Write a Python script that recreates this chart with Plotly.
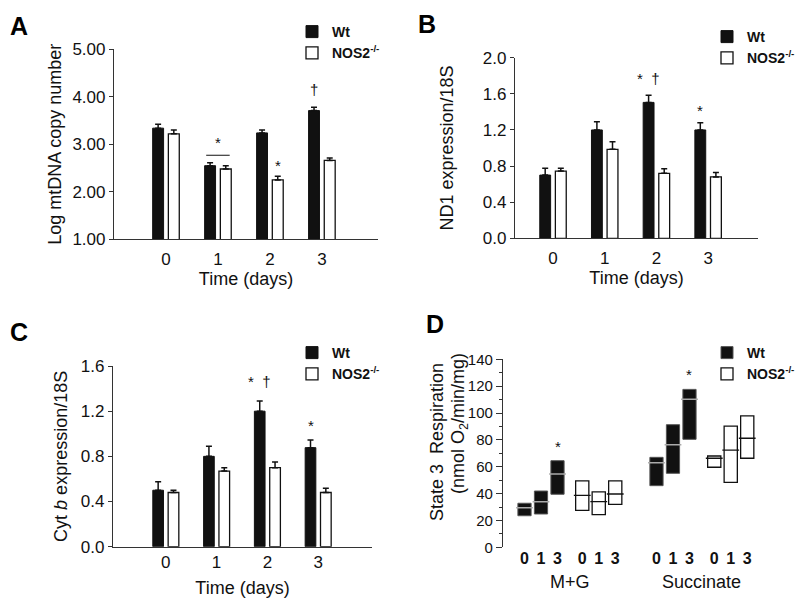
import plotly.graph_objects as go

# ---------------- data ----------------
days = ["0", "1", "2", "3"]
day_pos = [0, 1, 2, 3]

# Panel A: Log mtDNA copy number
a_wt = [3.34, 2.55, 3.24, 3.71]
a_wt_err = [0.08, 0.06, 0.06, 0.07]
a_nos = [3.22, 2.48, 2.25, 2.66]
a_nos_err = [0.08, 0.07, 0.08, 0.05]

# Panel B: ND1 expression/18S
b_wt = [0.70, 1.20, 1.505, 1.20]
b_wt_err = [0.075, 0.09, 0.08, 0.08]
b_nos = [0.745, 0.985, 0.72, 0.68]
b_nos_err = [0.03, 0.085, 0.05, 0.05]

# Panel C: Cyt b expression/18S
c_wt = [0.50, 0.80, 1.20, 0.877]
c_wt_err = [0.076, 0.09, 0.09, 0.068]
c_nos = [0.48, 0.67, 0.70, 0.48]
c_nos_err = [0.02, 0.03, 0.05, 0.037]

# Panel D: State 3 respiration (low / median / high), days 0,1,3
d_days = ["0", "1", "3"]
d_substrates = ["M+G", "Succinate"]
mg_wt_low = [23.5, 24.8, 39.5]
mg_wt_med = [29.5, 34.0, 54.6]
mg_wt_high = [32.8, 41.9, 64.5]
mg_nos_low = [27.5, 24.3, 32.0]
mg_nos_med = [38.7, 34.0, 39.7]
mg_nos_high = [49.4, 41.2, 49.4]
su_wt_low = [45.9, 55.1, 80.4]
su_wt_med = [63.0, 76.4, 110.2]
su_wt_high = [67.0, 91.3, 117.6]
su_nos_low = [59.6, 48.4, 66.3]
su_nos_med = [66.3, 72.4, 81.2]
su_nos_high = [68.0, 90.3, 97.8]

FONT = "Arial, Liberation Sans, Helvetica, sans-serif"
INK = "#111111"
AX = "#333333"
W, H = 800, 604

fig = go.Figure()

BW = 0.21
OFF_WT = -0.256
OFF_NOS = 0.046


def add_bar_panel(xa, ya, legend, wt, wt_err, nos, nos_err):
    fig.add_trace(go.Bar(
        x=day_pos, y=wt, name="Wt", xaxis=xa, yaxis=ya, legend=legend,
        width=BW, offset=OFF_WT,
        marker=dict(color=INK, line=dict(color=INK, width=1)),
        error_y=dict(type="data", symmetric=False, array=wt_err,
                     arrayminus=[0] * len(wt), color=INK, thickness=1.5, width=3),
    ))
    fig.add_trace(go.Bar(
        x=day_pos, y=nos, name="NOS2<sup>-/-</sup>", xaxis=xa, yaxis=ya, legend=legend,
        width=BW, offset=OFF_NOS,
        marker=dict(color="white", line=dict(color=INK, width=1.3)),
        error_y=dict(type="data", symmetric=False, array=nos_err,
                     arrayminus=[0] * len(nos), color=INK, thickness=1.5, width=3),
    ))


add_bar_panel("x", "y", "legend", a_wt, a_wt_err, a_nos, a_nos_err)
add_bar_panel("x2", "y2", "legend2", b_wt, b_wt_err, b_nos, b_nos_err)
add_bar_panel("x3", "y3", "legend3", c_wt, c_wt_err, c_nos, c_nos_err)

# Panel D: floating boxes
def d_positions(sub_idx, geno_idx):
    base = sub_idx * 8 + geno_idx * 3.5
    return [base + i for i in range(3)]

wt_x = d_positions(0, 0) + d_positions(1, 0)
nos_x = d_positions(0, 1) + d_positions(1, 1)
wt_low = mg_wt_low + su_wt_low
wt_high = mg_wt_high + su_wt_high
wt_med = mg_wt_med + su_wt_med
nos_low = mg_nos_low + su_nos_low
nos_high = mg_nos_high + su_nos_high
nos_med = mg_nos_med + su_nos_med

fig.add_trace(go.Bar(
    x=wt_x, y=[h - l for h, l in zip(wt_high, wt_low)], base=wt_low,
    width=0.8, name="Wt", xaxis="x4", yaxis="y4", legend="legend4",
    marker=dict(color=INK, line=dict(color="#555555", width=1)),
))
fig.add_trace(go.Bar(
    x=nos_x, y=[h - l for h, l in zip(nos_high, nos_low)], base=nos_low,
    width=0.8, name="NOS2<sup>-/-</sup>", xaxis="x4", yaxis="y4", legend="legend4",
    marker=dict(color="white", line=dict(color=INK, width=1.3)),
))
fig.add_trace(go.Scatter(
    x=wt_x, y=wt_med, mode="markers", xaxis="x4", yaxis="y4", showlegend=False,
    marker=dict(symbol="line-ew", size=12, line=dict(color="#aaaaaa", width=1.5)),
    hoverinfo="skip",
))
fig.add_trace(go.Scatter(
    x=nos_x, y=nos_med, mode="markers", xaxis="x4", yaxis="y4", showlegend=False,
    marker=dict(symbol="line-ew", size=12, line=dict(color=INK, width=1.3)),
    hoverinfo="skip",
))

# ---------------- axes ----------------
def px_dom_x(a, b):
    return [a / W, b / W]


def px_dom_y(top, bottom):
    return [1 - bottom / H, 1 - top / H]


tickfont = dict(family=FONT, size=17, color=INK)
titlefont = dict(family=FONT, size=18, color=INK)

common_x = dict(showline=True, linecolor=AX, linewidth=1.2, ticks="", zeroline=False,
                showgrid=False, tickfont=tickfont, tickvals=day_pos, ticktext=days,
                fixedrange=True, automargin=False)
common_y = dict(showline=True, linecolor=AX, linewidth=1.2, ticks="outside", ticklen=4,
                tickcolor=AX, zeroline=False, showgrid=False, tickfont=tickfont,
                fixedrange=True, automargin=False)

fig.update_layout(
    xaxis=dict(common_x, domain=px_dom_x(114, 378), range=[-1.0, 4.08], anchor="y",
               ticklabelstandoff=4,
               title=dict(text="Time (days)", font=titlefont, standoff=4)),
    yaxis=dict(common_y, domain=px_dom_y(49.3, 239.3), range=[1, 5], anchor="x",
               tickvals=[1, 2, 3, 4, 5], ticktext=["1.00", "2.00", "3.00", "4.00", "5.00"],
               title=dict(text="Log mtDNA copy number", font=titlefont, standoff=6)),
    xaxis2=dict(common_x, domain=px_dom_x(515, 758), range=[-0.735, 3.965], anchor="y2",
                ticklabelstandoff=4,
                title=dict(text="Time (days)", font=titlefont, standoff=4)),
    yaxis2=dict(common_y, domain=px_dom_y(57.7, 238.3), range=[0, 2.0], anchor="x2",
                tickvals=[0, 0.4, 0.8, 1.2, 1.6, 2.0], tickformat=".1f",
                title=dict(text="ND1 expression/18S", font=titlefont, standoff=24)),
    xaxis3=dict(common_x, domain=px_dom_x(113, 372), range=[-1.04, 4.06], anchor="y3",
                title=dict(text="Time (days)", font=titlefont, standoff=10)),
    yaxis3=dict(common_y, domain=px_dom_y(366, 546.7), range=[0, 1.6], anchor="x3",
                tickvals=[0, 0.4, 0.8, 1.2, 1.6], tickformat=".1f",
                title=dict(text="Cyt <i>b</i> expression/18S", font=titlefont, standoff=8)),
    xaxis4=dict(domain=px_dom_x(503, 770), range=[-1.303, 14.88], anchor="y4",
                showline=False, ticks="", zeroline=False, showgrid=False,
                tickvals=wt_x[:3] + nos_x[:3] + wt_x[3:] + nos_x[3:],
                ticktext=d_days * 4,
                tickfont=dict(family=FONT, size=16, color=INK, weight="bold"),
                fixedrange=True, automargin=False),
    yaxis4=dict(common_y, domain=px_dom_y(359.3, 547.3), range=[0, 140], anchor="x4",
                dtick=20, ticklen=6, tickfont=dict(family=FONT, size=15, color=INK),
                minor=dict(dtick=10, ticks="outside", ticklen=3, tickcolor=AX)),
    barmode="overlay",
    width=W, height=H,
    margin=dict(l=0, r=0, t=0, b=0, pad=0, autoexpand=False),
    paper_bgcolor="white", plot_bgcolor="white",
    font=dict(family=FONT, color=INK),
)

legend_style = dict(font=dict(family=FONT, size=14, color=INK, weight="bold"),
                    bgcolor="rgba(0,0,0,0)", yanchor="top",
                    itemclick=False, itemdoubleclick=False, tracegroupgap=0)
fig.update_layout(
    legend=dict(legend_style, x=292 / W, xanchor="left", y=1 - 16 / H),
    legend2=dict(legend_style, x=1, xanchor="right", y=1 - 21 / H),
    legend3=dict(legend_style, x=292 / W, xanchor="left", y=1 - 337 / H),
    legend4=dict(legend_style, x=1, xanchor="right", y=1 - 337 / H),
)

# ---------------- annotations ----------------
ann = []
for letter, xp, yp in [("A", 8, 10), ("B", 416, 8), ("C", 8, 316), ("D", 424, 308)]:
    ann.append(dict(text=f"<b>{letter}</b>", x=xp / W, y=1 - yp / H, xref="paper",
                    yref="paper", xanchor="left", yanchor="top", showarrow=False,
                    font=dict(family=FONT, size=25, color="black")))

# Panel D y-axis title (two lines, placed like the original)
for txt, xp, yp in [("State 3  Respiration", 437, 442),
                    ("(nmol O<sub>2</sub>/min/mg)", 459, 424)]:
    ann.append(dict(text=txt, x=xp / W, y=1 - yp / H, xref="paper", yref="paper",
                    xanchor="center", yanchor="middle", textangle=-90, showarrow=False,
                    font=titlefont))

star_font = dict(family=FONT, size=15, color=INK)


def mark(text, xa, ya, x, y, shift):
    ann.append(dict(text=text, x=x, y=y, xref=xa, yref=ya, xanchor="center",
                    yanchor="bottom", yshift=shift, showarrow=False, font=star_font))

wt_c = OFF_WT + BW / 2
nos_c = OFF_NOS + BW / 2

# Panel A
a_top1 = max(a_wt[1] + a_wt_err[1], a_nos[1] + a_nos_err[1])
mark("*", "x", "y", 1, a_top1, 10)
mark("*", "x", "y", 2 + nos_c, a_nos[2] + a_nos_err[2], 0)
mark("†", "x", "y", 3 + wt_c, a_wt[3] + a_wt_err[3], 7)
# Panel B
mark("*  †", "x2", "y2", 2 + wt_c, b_wt[2] + b_wt_err[2], 6)
mark("*", "x2", "y2", 3 + wt_c, b_wt[3] + b_wt_err[3], 2)
# Panel C
mark("*  †", "x3", "y3", 2 + wt_c, c_wt[2] + c_wt_err[2], 9)
mark("*", "x3", "y3", 3 + wt_c, c_wt[3] + c_wt_err[3], 4)
# Panel D
mark("*", "x4", "y4", wt_x[2], wt_high[2], 4)
mark("*", "x4", "y4", wt_x[5], wt_high[5], 4)

# Substrate labels in D
for i, sub in enumerate(d_substrates):
    xs = d_positions(i, 0) + d_positions(i, 1)
    ann.append(dict(text=sub, x=(min(xs) + max(xs)) / 2, y=1 - 582 / H, xref="x4",
                    yref="paper", xanchor="center", yanchor="middle", showarrow=False,
                    font=titlefont))

fig.update_layout(annotations=ann)

# bracket over day 1 in panel A
fig.add_shape(type="line", xref="x", yref="y", x0=1 + OFF_WT + 0.03, x1=1 + OFF_NOS + BW - 0.03,
              y0=a_top1 + 0.16, y1=a_top1 + 0.16, line=dict(color=INK, width=1.2))

# remove the default page margin so the 800x604 figure fills the window exactly
fig.write_html("out.html", config={"displayModeBar": False},
               post_script="document.body.style.margin='0';")
